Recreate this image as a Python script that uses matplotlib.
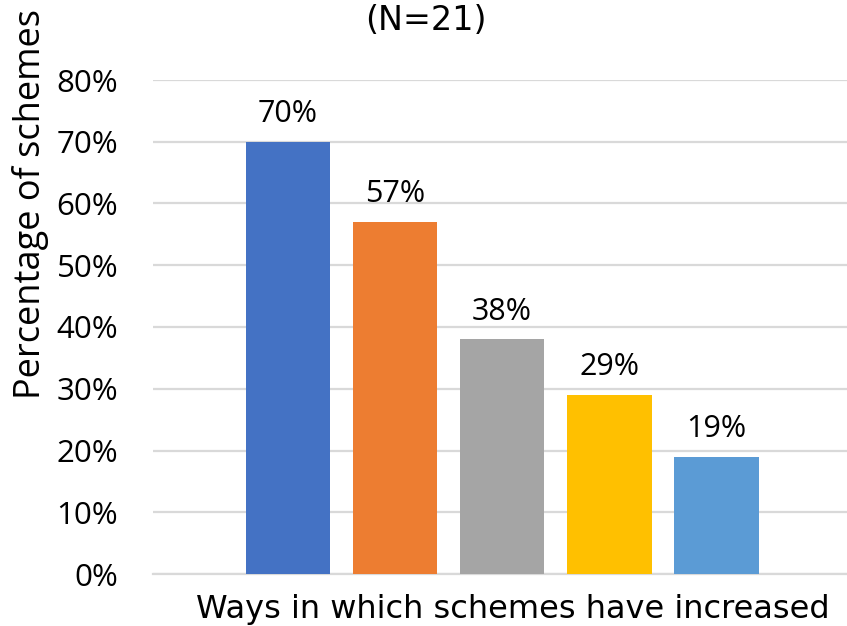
import matplotlib
matplotlib.use("Agg")
import matplotlib.pyplot as plt
from matplotlib.ticker import FuncFormatter

categories = ["A", "B", "C", "D", "E"]
values = [70, 57, 38, 29, 19]
colors = ["#4472C4", "#ED7D31", "#A5A5A5", "#FFC000", "#5B9BD5"]
yticks = [0, 10, 20, 30, 40, 50, 60, 70, 80]

W, H = 847, 626
fig = plt.figure(figsize=(W / 100, H / 100), dpi=100)
ax = fig.add_axes([153 / W, 52 / H, 1 - 153 / W, (574 - 80) / H])

main_font = ["Open Sans", "DejaVu Sans"]
title_font = ["DejaVu Sans"]

x = list(range(len(categories)))
ax.bar(x, values, width=0.79, color=colors, zorder=3)
for xi, v in zip(x, values):
    ax.text(xi, v + 3.2, f"{v}%", ha="center", va="baseline",
            fontsize=22, family=main_font, clip_on=False)

ax.set_ylim(0, 80)
ax.set_xlim(-1.26, 5.22)
ax.set_yticks(yticks)
ax.yaxis.set_major_formatter(FuncFormatter(lambda v, p: f"{v:.0f}%"))
ax.set_xticks([])
ax.grid(axis="y", color="#d9d9d9", linewidth=1.6, zorder=0)
for s in ["top", "right", "left"]:
    ax.spines[s].set_visible(False)
ax.spines["bottom"].set_color("#d9d9d9")
ax.spines["bottom"].set_linewidth(1.6)
ax.tick_params(axis="y", length=0, pad=25)
for lbl in ax.get_yticklabels():
    lbl.set_fontfamily(main_font)
    lbl.set_fontsize(22.5)

fig.text(31 / W, 1 - 204 / H, "Percentage of schemes", rotation=90,
         ha="center", va="center", fontsize=26, family=main_font)
fig.text(513 / W, 1 - 618 / H, "Ways in which schemes have increased",
         ha="center", va="baseline", fontsize=23, family=title_font)
fig.text(426 / W, 1 - 30 / H, "(N=21)", ha="center", va="baseline",
         fontsize=24, family=title_font)

fig.savefig("out.png", dpi=100)
